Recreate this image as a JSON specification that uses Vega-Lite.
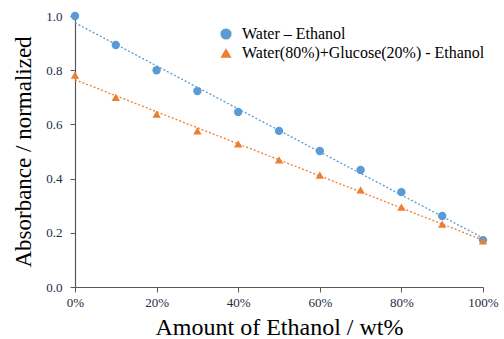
{
  "$schema": "https://vega.github.io/schema/vega-lite/v6.json",
  "autosize": {"type": "none"},
  "width": 408,
  "height": 271,
  "padding": {"left": 75, "top": 16, "right": 21, "bottom": 52},
  "background": "white",
  "config": {
    "view": {"stroke": null},
    "font": "Liberation Serif",
    "axis": {
      "grid": false,
      "domainColor": "#595959",
      "tickColor": "#595959",
      "domainWidth": 1.2,
      "labelFont": "Liberation Serif",
      "labelFontSize": 13,
      "labelColor": "#1f2a44",
      "labelFlush": false,
      "titleFont": "Liberation Serif",
      "titleFontWeight": "normal",
      "titleColor": "#000000"
    },
    "legend": {
      "labelFont": "Liberation Serif",
      "labelLimit": 400
    }
  },
  "data": {
    "values": [
      {"ethanol": 0, "absorbance": 1.0, "series": "Water – Ethanol"},
      {"ethanol": 10, "absorbance": 0.893, "series": "Water – Ethanol"},
      {"ethanol": 20, "absorbance": 0.80, "series": "Water – Ethanol"},
      {"ethanol": 30, "absorbance": 0.723, "series": "Water – Ethanol"},
      {"ethanol": 40, "absorbance": 0.646, "series": "Water – Ethanol"},
      {"ethanol": 50, "absorbance": 0.576, "series": "Water – Ethanol"},
      {"ethanol": 60, "absorbance": 0.502, "series": "Water – Ethanol"},
      {"ethanol": 70, "absorbance": 0.432, "series": "Water – Ethanol"},
      {"ethanol": 80, "absorbance": 0.35, "series": "Water – Ethanol"},
      {"ethanol": 90, "absorbance": 0.262, "series": "Water – Ethanol"},
      {"ethanol": 100, "absorbance": 0.173, "series": "Water – Ethanol"},
      {"ethanol": 0, "absorbance": 0.782, "series": "Water(80%)+Glucose(20%) - Ethanol"},
      {"ethanol": 10, "absorbance": 0.70, "series": "Water(80%)+Glucose(20%) - Ethanol"},
      {"ethanol": 20, "absorbance": 0.638, "series": "Water(80%)+Glucose(20%) - Ethanol"},
      {"ethanol": 30, "absorbance": 0.576, "series": "Water(80%)+Glucose(20%) - Ethanol"},
      {"ethanol": 40, "absorbance": 0.528, "series": "Water(80%)+Glucose(20%) - Ethanol"},
      {"ethanol": 50, "absorbance": 0.469, "series": "Water(80%)+Glucose(20%) - Ethanol"},
      {"ethanol": 60, "absorbance": 0.413, "series": "Water(80%)+Glucose(20%) - Ethanol"},
      {"ethanol": 70, "absorbance": 0.358, "series": "Water(80%)+Glucose(20%) - Ethanol"},
      {"ethanol": 80, "absorbance": 0.295, "series": "Water(80%)+Glucose(20%) - Ethanol"},
      {"ethanol": 90, "absorbance": 0.232, "series": "Water(80%)+Glucose(20%) - Ethanol"},
      {"ethanol": 100, "absorbance": 0.17, "series": "Water(80%)+Glucose(20%) - Ethanol"}
    ]
  },
  "encoding": {
    "x": {
      "field": "ethanol",
      "type": "quantitative",
      "scale": {"domain": [0, 100], "nice": false},
      "axis": {
        "title": "Amount  of Ethanol / wt%",
        "titleFontSize": 24,
        "values": [0, 20, 40, 60, 80, 100],
        "labelExpr": "datum.value + '%'",
        "tickSize": 5,
        "labelPadding": 4,
        "titlePadding": 6
      }
    },
    "y": {
      "field": "absorbance",
      "type": "quantitative",
      "scale": {"domain": [0, 1], "nice": false},
      "axis": {
        "title": "Absorbance / normalized",
        "titleFontSize": 23,
        "values": [0, 0.2, 0.4, 0.6, 0.8, 1.0],
        "format": ".1f",
        "tickSize": 5,
        "labelPadding": 8,
        "titlePadding": 10
      }
    }
  },
  "layer": [
    {
      "transform": [
        {"filter": "datum.series === 'Water – Ethanol'"},
        {"regression": "absorbance", "on": "ethanol", "extent": [0, 100]}
      ],
      "mark": {"type": "line", "color": "#5b9bd5", "strokeDash": [2, 2], "strokeWidth": 1.3},
      "encoding": {}
    },
    {
      "transform": [
        {"filter": "datum.series !== 'Water – Ethanol'"},
        {"regression": "absorbance", "on": "ethanol", "extent": [0, 100]}
      ],
      "mark": {"type": "line", "color": "#ed7d31", "strokeDash": [2, 2], "strokeWidth": 1.3},
      "encoding": {}
    },
    {
      "mark": {"type": "point", "filled": true, "opacity": 1, "size": 70},
      "encoding": {
        "color": {
          "field": "series",
          "type": "nominal",
          "scale": {"domain": ["Water – Ethanol", "Water(80%)+Glucose(20%) - Ethanol"], "range": ["#5b9bd5", "#ed7d31"]},
          "legend": {
            "title": null,
            "orient": "none",
            "legendX": 143,
            "legendY": 10,
            "symbolSize": 125,
            "labelFontSize": 16,
            "labelColor": "#000000",
            "labelLimit": 400,
            "labelOffset": 8,
            "rowPadding": 3,
            "symbolStrokeWidth": 0
          }
        },
        "shape": {
          "field": "series",
          "type": "nominal",
          "scale": {"domain": ["Water – Ethanol", "Water(80%)+Glucose(20%) - Ethanol"], "range": ["circle", "triangle-up"]},
          "legend": {
            "title": null,
            "orient": "none",
            "legendX": 143,
            "legendY": 10,
            "symbolSize": 125,
            "labelFontSize": 16,
            "labelColor": "#000000",
            "labelLimit": 400,
            "labelOffset": 8,
            "rowPadding": 3,
            "symbolStrokeWidth": 0
          }
        }
      }
    }
  ]
}
